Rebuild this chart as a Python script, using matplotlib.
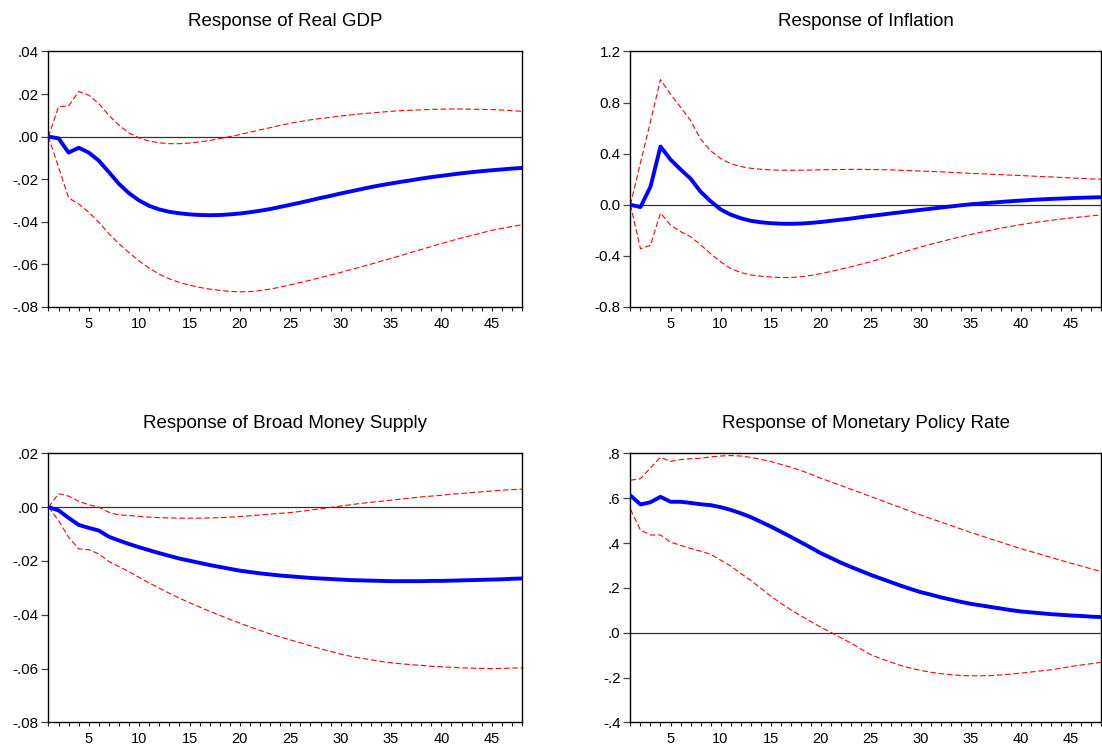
import matplotlib
matplotlib.use("Agg")
import matplotlib.pyplot as plt
from matplotlib.ticker import MultipleLocator, FixedLocator

plt.rcParams['font.family'] = ['Liberation Sans', 'DejaVu Sans']

# Horizon (periods after the shock)
periods = list(range(1, 49))

# Response of Real GDP
gdp_mid = [0.0, -0.0008, -0.0075, -0.0052, -0.0075, -0.0113, -0.0167, -0.0222, -0.0266, -0.0300,
           -0.0325, -0.0342, -0.0353, -0.0360, -0.0365, -0.0368, -0.0369, -0.0368, -0.0365, -0.0361,
           -0.0355, -0.0348, -0.0340, -0.0330, -0.0320, -0.0310, -0.0299, -0.0288, -0.0278, -0.0267,
           -0.0257, -0.0247, -0.0237, -0.0228, -0.0220, -0.0212, -0.0205, -0.0197, -0.0190, -0.0184,
           -0.0178, -0.0172, -0.0167, -0.0162, -0.0158, -0.0154, -0.0150, -0.0147]
gdp_hi = [0.0, 0.0141, 0.0144, 0.0212, 0.0195, 0.0155, 0.0100, 0.0053, 0.0017, -0.0006,
          -0.0021, -0.0029, -0.0033, -0.0033, -0.0030, -0.0025, -0.0018, -0.0009, 0.0000, 0.0010,
          0.0021, 0.0032, 0.0042, 0.0053, 0.0063, 0.0071, 0.0079, 0.0085, 0.0091, 0.0097,
          0.0102, 0.0107, 0.0111, 0.0115, 0.0119, 0.0122, 0.0124, 0.0126, 0.0128, 0.0129,
          0.0130, 0.0130, 0.0129, 0.0128, 0.0127, 0.0125, 0.0122, 0.0119]
gdp_lo = [0.0, -0.0144, -0.0288, -0.0316, -0.0355, -0.0402, -0.0456, -0.0503, -0.0545, -0.0584,
          -0.0618, -0.0646, -0.0668, -0.0685, -0.0698, -0.0708, -0.0716, -0.0722, -0.0727, -0.0729,
          -0.0728, -0.0723, -0.0716, -0.0707, -0.0696, -0.0685, -0.0674, -0.0662, -0.0650, -0.0638,
          -0.0625, -0.0612, -0.0599, -0.0585, -0.0572, -0.0558, -0.0544, -0.0530, -0.0516, -0.0502,
          -0.0489, -0.0476, -0.0464, -0.0452, -0.0440, -0.0431, -0.0422, -0.0414]

# Response of Inflation
inf_mid = [0.0, -0.018, 0.141, 0.456, 0.354, 0.277, 0.205, 0.103, 0.028, -0.036,
           -0.077, -0.105, -0.125, -0.137, -0.144, -0.148, -0.149, -0.147, -0.142, -0.135,
           -0.126, -0.117, -0.108, -0.097, -0.087, -0.078, -0.068, -0.059, -0.049, -0.040,
           -0.031, -0.022, -0.013, -0.004, 0.004, 0.010, 0.016, 0.022, 0.028, 0.033,
           0.038, 0.042, 0.046, 0.049, 0.052, 0.055, 0.057, 0.059]
inf_hi = [0.0, 0.33, 0.65, 0.98, 0.865, 0.765, 0.66, 0.515, 0.423, 0.362,
          0.322, 0.300, 0.286, 0.278, 0.273, 0.271, 0.270, 0.271, 0.272, 0.274,
          0.275, 0.276, 0.277, 0.277, 0.276, 0.275, 0.273, 0.270, 0.267, 0.264,
          0.261, 0.258, 0.254, 0.250, 0.246, 0.243, 0.239, 0.236, 0.232, 0.229,
          0.225, 0.221, 0.218, 0.214, 0.210, 0.207, 0.203, 0.200]
inf_lo = [0.0, -0.344, -0.318, -0.064, -0.159, -0.210, -0.249, -0.313, -0.382, -0.446,
          -0.498, -0.530, -0.549, -0.559, -0.565, -0.570, -0.569, -0.564, -0.553, -0.539,
          -0.522, -0.504, -0.486, -0.466, -0.446, -0.423, -0.400, -0.376, -0.353, -0.330,
          -0.309, -0.289, -0.269, -0.250, -0.232, -0.215, -0.199, -0.183, -0.169, -0.155,
          -0.143, -0.132, -0.122, -0.112, -0.103, -0.095, -0.087, -0.080]

# Response of Broad Money Supply
m2_mid = [0.0, -0.0012, -0.0040, -0.0066, -0.0077, -0.0087, -0.0110, -0.0124, -0.0137, -0.0149,
          -0.0160, -0.0171, -0.0181, -0.0191, -0.0199, -0.0207, -0.0215, -0.0222, -0.0229, -0.0236,
          -0.0241, -0.0246, -0.0250, -0.0254, -0.0257, -0.0260, -0.0263, -0.0265, -0.0267, -0.0269,
          -0.0271, -0.0272, -0.0273, -0.0274, -0.0275, -0.0275, -0.0275, -0.0275, -0.0274, -0.0274,
          -0.0273, -0.0272, -0.0271, -0.0270, -0.0269, -0.0268, -0.0266, -0.0265]
m2_hi = [0.0, 0.0050, 0.0041, 0.0022, 0.0009, 0.0000, -0.0019, -0.0029, -0.0031, -0.0034,
         -0.0037, -0.0039, -0.0040, -0.0041, -0.0041, -0.0041, -0.0040, -0.0039, -0.0037, -0.0035,
         -0.0032, -0.0029, -0.0026, -0.0023, -0.0020, -0.0016, -0.0011, -0.0006, -0.0001, 0.0004,
         0.0009, 0.0014, 0.0018, 0.0022, 0.0026, 0.0030, 0.0034, 0.0038, 0.0041, 0.0044,
         0.0048, 0.0051, 0.0054, 0.0057, 0.0060, 0.0063, 0.0065, 0.0067]
m2_lo = [0.0, -0.0050, -0.0112, -0.0155, -0.0158, -0.0174, -0.0202, -0.0221, -0.0240, -0.0261,
         -0.0282, -0.0301, -0.0320, -0.0338, -0.0355, -0.0371, -0.0387, -0.0402, -0.0417, -0.0431,
         -0.0445, -0.0458, -0.0471, -0.0482, -0.0493, -0.0504, -0.0515, -0.0526, -0.0536, -0.0546,
         -0.0554, -0.0561, -0.0567, -0.0573, -0.0578, -0.0582, -0.0585, -0.0588, -0.0591, -0.0593,
         -0.0595, -0.0597, -0.0598, -0.0599, -0.0600, -0.0599, -0.0598, -0.0597]

# Response of Monetary Policy Rate
mpr_mid = [0.612, 0.572, 0.582, 0.606, 0.584, 0.584, 0.579, 0.573, 0.569, 0.560,
           0.548, 0.533, 0.516, 0.495, 0.474, 0.451, 0.428, 0.404, 0.380, 0.355,
           0.334, 0.313, 0.294, 0.276, 0.258, 0.242, 0.226, 0.210, 0.195, 0.181,
           0.170, 0.158, 0.148, 0.138, 0.129, 0.122, 0.115, 0.108, 0.101, 0.095,
           0.091, 0.087, 0.083, 0.080, 0.077, 0.075, 0.072, 0.070]
mpr_hi = [0.680, 0.687, 0.735, 0.782, 0.764, 0.772, 0.776, 0.778, 0.784, 0.788,
          0.790, 0.788, 0.782, 0.773, 0.764, 0.751, 0.738, 0.724, 0.707, 0.689,
          0.673, 0.657, 0.640, 0.624, 0.607, 0.591, 0.574, 0.558, 0.541, 0.525,
          0.509, 0.494, 0.478, 0.463, 0.447, 0.433, 0.418, 0.404, 0.389, 0.375,
          0.362, 0.349, 0.336, 0.323, 0.310, 0.298, 0.285, 0.273]
mpr_lo = [0.550, 0.458, 0.436, 0.436, 0.404, 0.390, 0.376, 0.364, 0.350, 0.324,
          0.298, 0.265, 0.234, 0.199, 0.164, 0.132, 0.103, 0.076, 0.050, 0.025,
          0.002, -0.022, -0.045, -0.072, -0.098, -0.115, -0.131, -0.146, -0.158, -0.168,
          -0.176, -0.182, -0.187, -0.190, -0.192, -0.192, -0.191, -0.188, -0.184, -0.180,
          -0.175, -0.170, -0.165, -0.158, -0.150, -0.144, -0.138, -0.132]

# Titles and y-axis ticks (EViews style labels)
titles = ["Response of Real GDP", "Response of Inflation",
          "Response of Broad Money Supply", "Response of Monetary Policy Rate"]
gdp_ticks = [-0.08, -0.06, -0.04, -0.02, 0.00, 0.02, 0.04]
gdp_labels = ["-.08", "-.06", "-.04", "-.02", ".00", ".02", ".04"]
inf_ticks = [-0.8, -0.4, 0.0, 0.4, 0.8, 1.2]
inf_labels = ["-0.8", "-0.4", "0.0", "0.4", "0.8", "1.2"]
m2_ticks = [-0.08, -0.06, -0.04, -0.02, 0.00, 0.02]
m2_labels = ["-.08", "-.06", "-.04", "-.02", ".00", ".02"]
mpr_ticks = [-0.4, -0.2, 0.0, 0.2, 0.4, 0.6, 0.8]
mpr_labels = ["-.4", "-.2", ".0", ".2", ".4", ".6", ".8"]


def draw_panel(ax, title, mid, hi, lo, yticks, ylabels):
    ax.axhline(0, color='#333333', linewidth=0.9, zorder=1)
    ax.plot(periods, hi, color='#ff0000', linewidth=0.8, linestyle=(0, (5, 2.5)), zorder=2)
    ax.plot(periods, lo, color='#ff0000', linewidth=0.8, linestyle=(0, (5, 2.5)), zorder=2)
    ax.plot(periods, mid, color='#0000ff', linewidth=2.8, zorder=3)

    ax.set_xlim(1, 48)
    ax.set_ylim(yticks[0], yticks[-1])
    ax.xaxis.set_major_locator(FixedLocator([5, 10, 15, 20, 25, 30, 35, 40, 45]))
    ax.xaxis.set_minor_locator(MultipleLocator(1))
    ax.set_yticks(yticks)
    ax.set_yticklabels(ylabels)

    ax.tick_params(axis='x', which='both', direction='out', length=3, width=0.8,
                   pad=4, labelsize=10.5, color='#222222')
    ax.tick_params(axis='y', direction='out', length=5, width=0.9,
                   pad=2, labelsize=11, color='#444444')
    for side in ['left', 'right', 'top', 'bottom']:
        ax.spines[side].set_color('black')
        ax.spines[side].set_linewidth(1.0)
    ax.set_title(title, fontsize=13.5, pad=18)


def main():
    fig = plt.figure(figsize=(11.02, 7.44), dpi=100)

    # Panel placement in figure fractions
    ax1 = fig.add_axes([0.044, 0.5874, 0.4297, 0.3434])
    ax2 = fig.add_axes([0.5721, 0.5874, 0.4270, 0.3434])
    ax3 = fig.add_axes([0.044, 0.0289, 0.4297, 0.3618])
    ax4 = fig.add_axes([0.5721, 0.0289, 0.4270, 0.3618])

    draw_panel(ax1, titles[0], gdp_mid, gdp_hi, gdp_lo, gdp_ticks, gdp_labels)
    draw_panel(ax2, titles[1], inf_mid, inf_hi, inf_lo, inf_ticks, inf_labels)
    draw_panel(ax3, titles[2], m2_mid, m2_hi, m2_lo, m2_ticks, m2_labels)
    draw_panel(ax4, titles[3], mpr_mid, mpr_hi, mpr_lo, mpr_ticks, mpr_labels)

    fig.savefig('out.png', dpi=100)


if __name__ == "__main__":
    main()
